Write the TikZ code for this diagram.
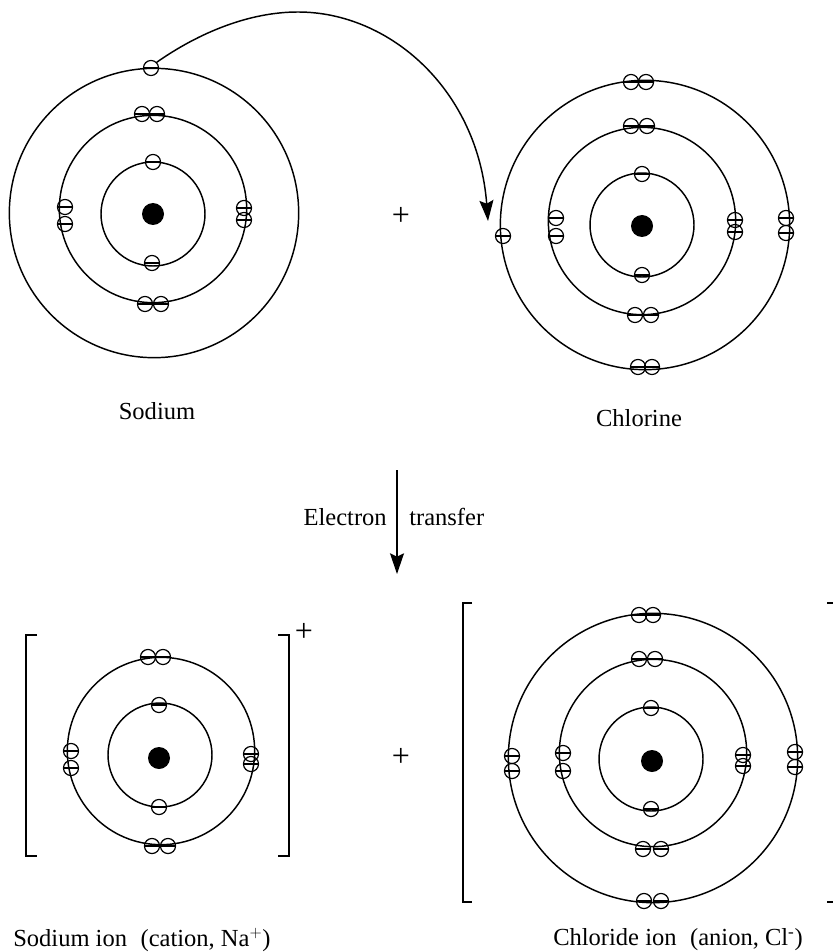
\documentclass[tikz,border=0pt]{standalone}
\usepackage{fontspec}
\setmainfont{Liberation Serif}
\usetikzlibrary{arrows.meta, positioning}

\begin{document}
\begin{tikzpicture}[
    x=0.75pt, y=-0.75pt,
    shell/.style={draw, circle, inner sep=0pt, line width=1.1pt},
    shellone/.style={shell, minimum size=78pt},
    shelltwo/.style={shell, minimum size=140.5pt},
    shellthree/.style={shell, minimum size=217pt},
    nucleus/.style={circle, fill=black, inner sep=0pt, minimum size=16.5pt},
    electron/.style={draw, circle, inner sep=0pt, minimum size=11.3pt, line width=0.9pt,
      path picture={\draw[line width=0.9pt] (path picture bounding box.west) -- (path picture bounding box.east);}},
    arrow/.style={-{Stealth[length=15.5pt, width=10.5pt, inset=2.5pt]}, line width=1.1pt},
    label/.style={font=\fontsize{18.4pt}{22pt}\selectfont, inner sep=0pt},
    plussign/.style={font=\fontsize{24pt}{26pt}\selectfont, inner sep=0pt},
    bracket/.style={line width=1.1pt},
  ]
  \useasboundingbox (0,0) rectangle (833,952);
  % sodium atom
  \node[nucleus] (na) at (153,214) {};
  \node[shellone] (naone) at (153,214) {};
  \node[shelltwo] (natwo) at (153,209) {};
  \node[shellthree] (nathree) at (154,213) {};
  \node[electron] (nae1) at (153,162) {};
  \node[electron] (nae2) at (152,263) {};
  \node[electron] (nae3) at (142,114) {};
  \node[electron] (nae4) at (157,114) {};
  \node[electron] (nae5) at (145,304) {};
  \node[electron] (nae6) at (161,304) {};
  \node[electron] (nae7) at (65,207) {};
  \node[electron] (nae8) at (65,224) {};
  \node[electron] (nae9) at (244,208) {};
  \node[electron] (nae10) at (244,220) {};
  \node[electron] (nae11) at (151,68) {};
  % chlorine atom
  \node[nucleus] (cl) at (642,226) {};
  \node[shellone] (clone) at (642,225) {};
  \node[shelltwo] (cltwo) at (642,221) {};
  \node[shellthree] (clthree) at (645,225) {};
  \node[electron] (cle1) at (642,174) {};
  \node[electron] (cle2) at (642,275) {};
  \node[electron] (cle3) at (631,126) {};
  \node[electron] (cle4) at (647,126) {};
  \node[electron] (cle5) at (635,315) {};
  \node[electron] (cle6) at (651,315) {};
  \node[electron] (cle7) at (556,218) {};
  \node[electron] (cle8) at (556,236) {};
  \node[electron] (cle9) at (735,220) {};
  \node[electron] (cle10) at (735,232) {};
  \node[electron] (cle11) at (631,82) {};
  \node[electron] (cle12) at (646,82) {};
  \node[electron] (cle13) at (638,367) {};
  \node[electron] (cle14) at (652,367) {};
  \node[electron] (cle15) at (786,218) {};
  \node[electron] (cle16) at (786,233) {};
  \node[electron] (cle17) at (503,236) {};
  % sodium ion
  \node[nucleus] (nai) at (159,758) {};
  \node[shellone] (naione) at (160,755) {};
  \node[shelltwo] (naitwo) at (161,751) {};
  \node[electron] (naie1) at (159,705) {};
  \node[electron] (naie2) at (159,807) {};
  \node[electron] (naie3) at (148,657) {};
  \node[electron] (naie4) at (163,657) {};
  \node[electron] (naie5) at (152,846) {};
  \node[electron] (naie6) at (168,846) {};
  \node[electron] (naie7) at (71,751) {};
  \node[electron] (naie8) at (71,768) {};
  \node[electron] (naie9) at (251,754) {};
  \node[electron] (naie10) at (251,764) {};
  \draw[bracket] (37,635) -| (26,856) -- (37,856);
  \draw[bracket] (278,635) -| (289,856) -- (278,856);
  \node[plussign] (naicharge) at (304,632) {+};
  % chloride ion
  \node[nucleus] (cli) at (652,761) {};
  \node[shellone] (clione) at (651,759) {};
  \node[shelltwo] (clitwo) at (653,753) {};
  \node[shellthree] (clithree) at (653,758) {};
  \node[electron] (clie1) at (651,708) {};
  \node[electron] (clie2) at (651,809) {};
  \node[electron] (clie3) at (639,659) {};
  \node[electron] (clie4) at (655,659) {};
  \node[electron] (clie5) at (643,849) {};
  \node[electron] (clie6) at (661,849) {};
  \node[electron] (clie7) at (639,615) {};
  \node[electron] (clie8) at (653,615) {};
  \node[electron] (clie9) at (644,901) {};
  \node[electron] (clie10) at (661,901) {};
  \node[electron] (clie11) at (512,756) {};
  \node[electron] (clie12) at (512,771) {};
  \node[electron] (clie13) at (563,753) {};
  \node[electron] (clie14) at (563,771) {};
  \node[electron] (clie15) at (743,755) {};
  \node[electron] (clie16) at (743,766) {};
  \node[electron] (clie17) at (795,752) {};
  \node[electron] (clie18) at (795,767) {};
  \draw[bracket] (472,603) -| (463,902) -- (472,902);
  \draw[bracket] (827,603) -- (833,603);
  \draw[bracket] (827,902) -- (833,902);
  % labels
  \node[plussign] (plustop) at (401,216) {+};
  \node[plussign] (plusbot) at (401,757) {+};
  \node[label] (sodium) at (157,411) {Sodium};
  \node[label] (chlorine) at (639,418) {Chlorine};
  \node[label, anchor=west] (sodiumion) at (13,940) {Sodium ion\hspace{0.3em} (cation, Na$^{+}$)};
  \node[label, anchor=west] (chlorideion) at (553,940) {Chloride ion\hspace{0.3em} (anion, Cl\textsuperscript{-})};
  \node[label, anchor=east] (electronlbl) at (387,517) {Electron};
  \node[label, anchor=west] (transferlbl) at (409,517) {transfer};
  % arrows
  \coordinate (xferend) at (488,221);
  \coordinate (reacttop) at (397,470);
  \coordinate (reactbot) at (397,574);
  \draw[arrow] (nae11.north east) .. controls (200,32) and (250,12) .. (298,12) .. controls (390,12) and (478,90) .. (xferend);
  \draw[arrow] (reacttop) -- (reactbot);
\end{tikzpicture}
\end{document}
